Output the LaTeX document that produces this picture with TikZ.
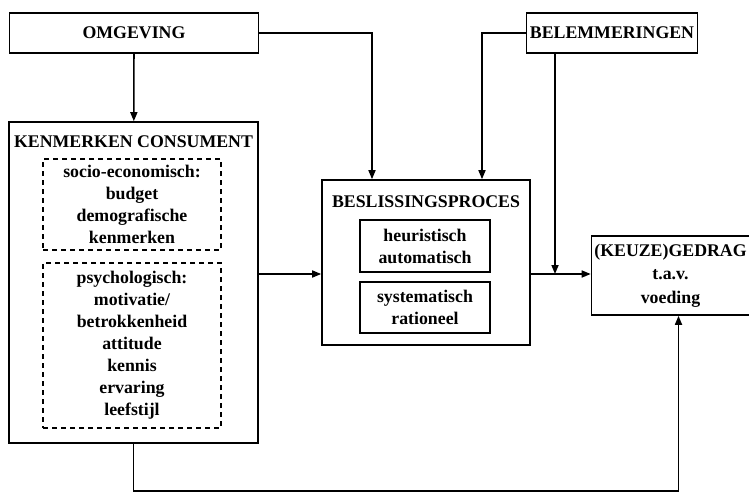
\documentclass[tikz,border=0pt]{standalone}
\usepackage{fontspec}
\setmainfont{Liberation Serif}
\usetikzlibrary{arrows.meta, positioning}

\begin{document}
\begin{tikzpicture}[x=1pt, y=-1pt, line width=1.6pt,
   -{Triangle[length=9pt, width=7pt]},
   every node/.style = {font=\fontsize{17.8}{22}\selectfont\bfseries, align=center, inner sep=0pt},
   box/.style = {draw, rectangle},
   dashbox/.style = {draw, rectangle, dashed, dash pattern=on 5pt off 4pt}]
   \useasboundingbox (0,0) rectangle (749,501);

   \node[box, minimum width=249pt, minimum height=40pt] (omgeving) at (134,33) {OMGEVING};
   \node[box, minimum width=171pt, minimum height=40pt] (belemmeringen) at (612,33) {BELEMMERINGEN};

   \node[box, minimum width=249pt, minimum height=321pt] (kenmerken) at (133.5,282.5) {};
   \node (kenmerkentitel) at (133.5,142) {KENMERKEN CONSUMENT};
   \node[dashbox, minimum width=178pt, minimum height=91pt] (socio) at (132,204.5)
      {socio-economisch:\\budget\\demografische\\kenmerken};
   \node[dashbox, minimum width=178pt, minimum height=165pt] (psycho) at (132,345.5)
      {psychologisch:\\motivatie/\\betrokkenheid\\attitude\\kennis\\ervaring\\leefstijl};

   \node[box, minimum width=208pt, minimum height=165pt] (proces) at (426,262.5) {};
   \node (procestitel) at (426,202) {BESLISSINGSPROCES};
   \node[box, minimum width=130pt, minimum height=52pt] (heuristisch) at (425,246)
      {heuristisch\\automatisch};
   \node[box, minimum width=130pt, minimum height=51pt] (systematisch) at (425,307.5)
      {systematisch\\rationeel};

   \node[box, minimum width=158pt, minimum height=79pt,
      font=\fontsize{17.8}{23.5}\selectfont\bfseries] (gedrag) at (670.5,275.5)
      {(KEUZE)GEDRAG\\t.a.v.\\voeding};

   \coordinate (samen) at (555,274);

   \draw (omgeving) -- (kenmerken);
   \draw (omgeving.east) -| ([xshift=-54pt]proces.north);
   \draw (belemmeringen.west) -| ([xshift=56pt]proces.north);
   \draw ([xshift=-57pt]belemmeringen.south) -- (samen);
   \draw (kenmerken.east |- samen) -- (proces.west |- samen);
   \draw (proces.east |- samen) -- (gedrag.west |- samen);
   \draw (kenmerken.south) -- ++(0,47) -| ([xshift=8pt]gedrag.south);

\end{tikzpicture}
\end{document}
